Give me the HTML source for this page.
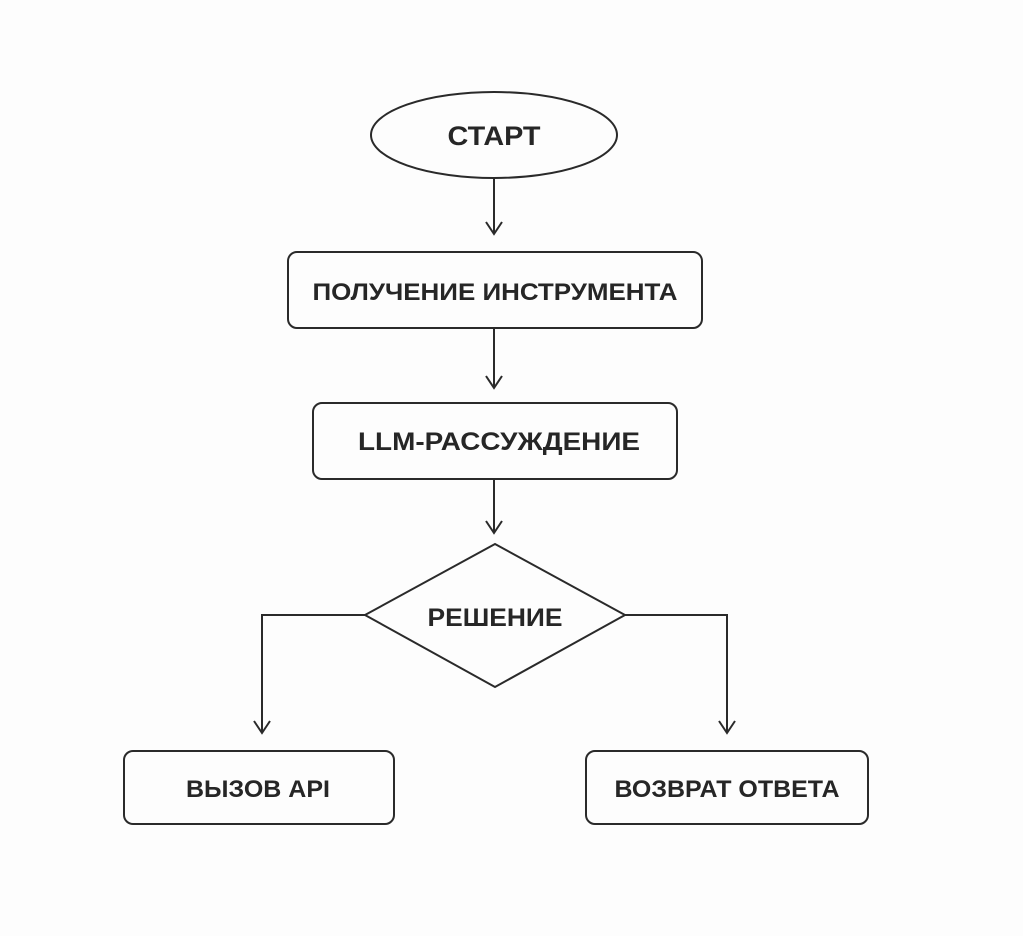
<!DOCTYPE html>
<html><head><meta charset="utf-8"><style>
html,body{margin:0;padding:0;background:#fdfdfd;}
svg{display:block;}
text{font-family:"Liberation Sans","DejaVu Sans",sans-serif;font-weight:bold;fill:#262626;}
</style></head><body>
<svg width="1023" height="936" viewBox="0 0 1023 936" xmlns="http://www.w3.org/2000/svg">
<rect width="1023" height="936" fill="#fdfdfd"/>
<g stroke="#2a2a2a" stroke-width="2" fill="none">
<ellipse cx="494" cy="135" rx="123" ry="43"/>
<rect x="288" y="252" width="414" height="76" rx="9"/>
<rect x="313" y="403" width="364" height="76" rx="9"/>
<polygon points="495,544 625,615 495,687 365,615"/>
<rect x="124" y="751" width="270" height="73" rx="9"/>
<rect x="586" y="751" width="282" height="73" rx="9"/>
<line x1="494" y1="178" x2="494" y2="234"/>
<polyline points="486,222 494,234 502,222"/>
<line x1="494" y1="328" x2="494" y2="388"/>
<polyline points="486,376 494,388 502,376"/>
<line x1="494" y1="479" x2="494" y2="533"/>
<polyline points="486,521 494,533 502,521"/>
<polyline points="365,615 262,615 262,733"/>
<polyline points="254,721 262,733 270,721"/>
<polyline points="625,615 727,615 727,733"/>
<polyline points="719,721 727,733 735,721"/>
</g>
<text x="494" y="145" font-size="27" text-anchor="middle" textLength="93" lengthAdjust="spacingAndGlyphs">СТАРТ</text>
<text x="495" y="300" font-size="24" text-anchor="middle" textLength="365" lengthAdjust="spacingAndGlyphs">ПОЛУЧЕНИЕ ИНСТРУМЕНТА</text>
<text x="499" y="450" font-size="25" text-anchor="middle" textLength="282" lengthAdjust="spacingAndGlyphs">LLM-РАССУЖДЕНИЕ</text>
<text x="495" y="626" font-size="25" text-anchor="middle" textLength="135" lengthAdjust="spacingAndGlyphs">РЕШЕНИЕ</text>
<text x="258" y="797" font-size="24" text-anchor="middle" textLength="144" lengthAdjust="spacingAndGlyphs">ВЫЗОВ API</text>
<text x="727" y="797" font-size="24" text-anchor="middle" textLength="225" lengthAdjust="spacingAndGlyphs">ВОЗВРАТ ОТВЕТА</text>
</svg>
</body></html>
